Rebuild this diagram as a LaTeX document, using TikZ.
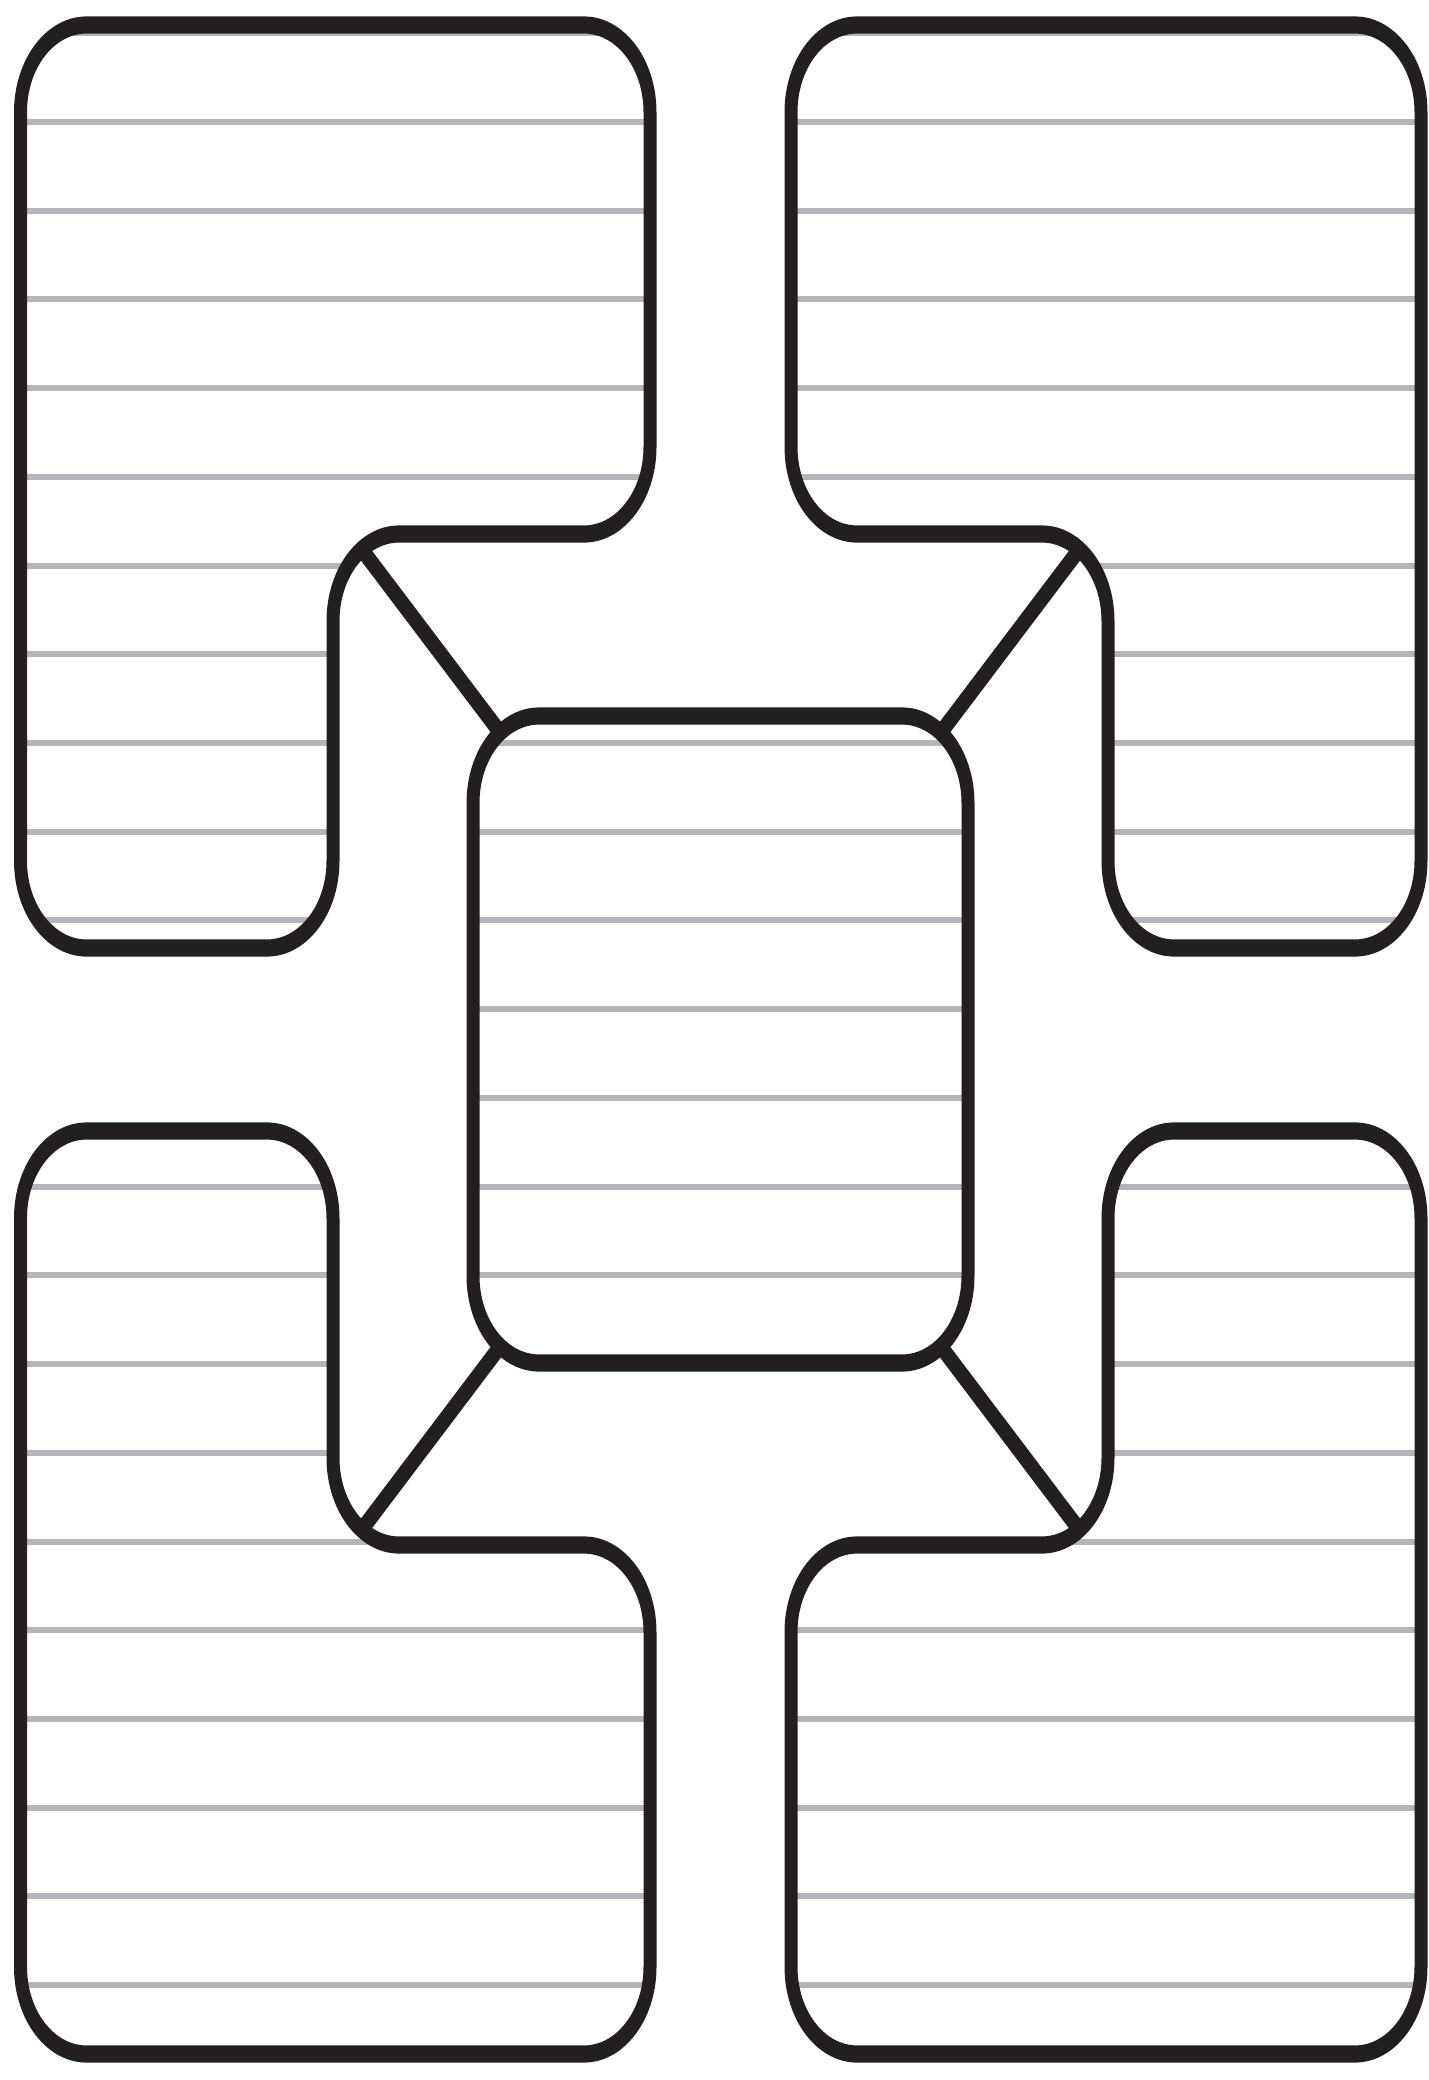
\documentclass[tikz,border=0pt]{standalone}
\usepackage{tikz}

\definecolor{inkblack}{HTML}{231F20}
\definecolor{rulegray}{HTML}{B4B5B9}

\tikzset{
  outline/.style={draw=inkblack, line width=3.25pt, line join=round},
  ruling/.style={draw=rulegray, line width=1.14pt},
  link/.style={draw=inkblack, line width=3.25pt},
}

% panel outlines, in pixels of the sheet
\newcommand{\tlpanel}{(300,25) -- (650,25) -- (650,534) -- (333,534) -- (333,948) -- (20.5,948) -- (20.5,25) -- cycle}
\newcommand{\trpanel}{(1100,25) -- (1421,25) -- (1421,948) -- (1108,948) -- (1108,534) -- (791,534) -- (791,25) -- cycle}
\newcommand{\blpanel}{(300,2054) -- (650,2054) -- (650,1545) -- (333,1545) -- (333,1131) -- (20.5,1131) -- (20.5,2054) -- cycle}
\newcommand{\brpanel}{(1100,2054) -- (1421,2054) -- (1421,1131) -- (1108,1131) -- (1108,1545) -- (791,1545) -- (791,2054) -- cycle}
\newcommand{\midpanel}{(473,716) rectangle (968,1363)}

% ruled lines of the sheet
\newcommand{\ruledlines}{%
  \foreach \k in {-1,...,21}
    \draw[ruling] (0,{122+88.72*\k}) -- (1428,{122+88.72*\k});}

\begin{document}
\begin{tikzpicture}[x=0.25pt, y=-0.25pt]
  \fill[white] (0,0) rectangle (1428,2080);
  \useasboundingbox (0,0) rectangle (1428,2080);
  % the whole sheet is drawn round and then stretched upwards
  \begin{scope}[transform canvas={yscale=1.32}, y=-0.18939pt, rounded corners=16.5pt]
    % links from the middle panel to the four corners
    \coordinate (tl-in) at (340,520.6);
    \coordinate (tl-out) at (520,758.8);
    \coordinate (tr-in) at (1101,520.6);
    \coordinate (tr-out) at (921,758.8);
    \coordinate (bl-in) at (340,1558.4);
    \coordinate (bl-out) at (520,1320.2);
    \coordinate (br-in) at (1101,1558.4);
    \coordinate (br-out) at (921,1320.2);
    \draw[link] (tl-in) -- (tl-out);
    \draw[link] (tr-in) -- (tr-out);
    \draw[link] (bl-in) -- (bl-out);
    \draw[link] (br-in) -- (br-out);
    % panels: white ground, ruled lines, outline
    \foreach \panel in {\tlpanel,\trpanel,\blpanel,\brpanel,\midpanel} {
      \begin{scope}
        \clip \panel;
        \fill[white] (0,0) rectangle (1428,2080);
        \ruledlines
      \end{scope}
      \draw[outline] \panel;
    }
  \end{scope}
\end{tikzpicture}
\end{document}
